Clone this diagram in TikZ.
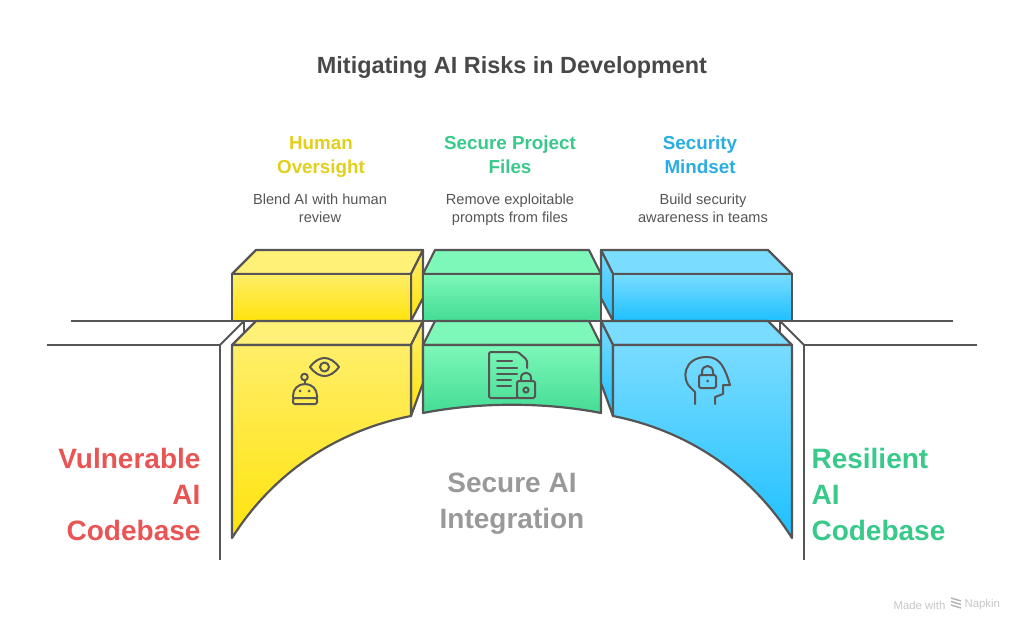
\documentclass[tikz,border=0pt]{standalone}
\usepackage{fontspec}
\setmainfont{Liberation Sans}
\definecolor{wallgray}{HTML}{555555}
\definecolor{titlegray}{HTML}{484848}
\definecolor{yellowtxt}{HTML}{E3CF1B}
\definecolor{greentxt}{HTML}{38C98B}
\definecolor{bluetxt}{HTML}{29ADE2}
\definecolor{redtxt}{HTML}{E95555}
\tikzset{
  wall/.style={draw=wallgray,line width=1.8},
  block/.style={draw=wallgray,line width=2.2,line join=round},
  ylw/.style={block,top color={rgb,255:red,255;green,238;blue,105},bottom color={rgb,255:red,255;green,227;blue,12}},
  grn/.style={block,top color={rgb,255:red,125;green,248;blue,185},bottom color={rgb,255:red,68;green,220;blue,148}},
  blu/.style={block,top color={rgb,255:red,122;green,220;blue,255},bottom color={rgb,255:red,30;green,192;blue,255}},
  ylwtop/.style={block,fill={rgb,255:red,255;green,240;blue,120}},
  grntop/.style={block,fill={rgb,255:red,125;green,248;blue,185}},
  blutop/.style={block,fill={rgb,255:red,122;green,220;blue,255}},
  heading/.style={font=\bfseries\fontsize{18.8}{24}\selectfont,align=center},
  note/.style={font=\fontsize{14.6}{18}\selectfont,text=wallgray,align=center},
  side/.style={font=\bfseries\fontsize{28}{36}\selectfont},
  icon/.style={draw=wallgray,line width=2,line join=round,line cap=round},
}

\begin{document}
\begin{tikzpicture}[x=1pt,y=-1pt]
\useasboundingbox (0,0) rectangle (1024,631);

% walls
\draw[wall] (71,321) -- (953,321);
\draw[wall] (47,345) -- (220,345) -- (220,560);
\draw[wall] (977,345) -- (804,345) -- (804,560);
\draw[wall] (220,345) -- (244,321) -- (244,345);
\draw[wall] (804,345) -- (780,321) -- (780,345);

% upper row
\draw[ylwtop] (232,274) -- (256,250) -- (423,250) -- (411,274) -- cycle;
\draw[ylw] (411,274) -- (423,250) -- (423,298) -- (411,321) -- cycle;
\draw[ylw] (232,274) rectangle (411,321);
\draw[grntop] (423,274) -- (435,250) -- (589,250) -- (601,274) -- cycle;
\draw[grn] (423,274) rectangle (601,321);
\draw[blutop] (601,250) -- (768,250) -- (792,274) -- (613,274) -- cycle;
\draw[blu] (613,274) -- (601,250) -- (601,298) -- (613,321) -- cycle;
\draw[blu] (613,274) rectangle (792,321);

% lower row
\draw[ylwtop] (232,345) -- (256,321) -- (423,321) -- (411,345) -- cycle;
\draw[ylw] (411,345) -- (423,321) -- (423,383) -- (411,416) -- cycle;
\draw[ylw] (232,345) -- (411,345) -- (411,416) .. controls (340,430) and (275,470) .. (232,538) -- cycle;
\draw[grntop] (423,345) -- (435,321) -- (589,321) -- (601,345) -- cycle;
\draw[grn] (423,345) -- (601,345) -- (601,413) .. controls (545,402) and (479,402) .. (423,413) -- cycle;
\draw[blutop] (601,321) -- (768,321) -- (792,345) -- (613,345) -- cycle;
\draw[blu] (613,345) -- (601,321) -- (601,383) -- (613,416) -- cycle;
\draw[blu] (613,345) -- (792,345) -- (792,538) .. controls (749,470) and (684,430) .. (613,416) -- cycle;

% robot and eye
\draw[icon] (310,367) .. controls (319,355) and (330,355) .. (339,367) .. controls (330,379) and (319,379) .. (310,367) -- cycle;
\draw[icon] (324.5,367) circle (4.5);
\draw[icon] (304.5,377) circle (3.3);
\draw[icon] (304.5,380.5) -- (304.5,384);
\draw[icon] (293,398) -- (293,396) .. controls (293,389) and (298,384) .. (305,384) .. controls (312,384) and (317,389) .. (317,396) -- (317,398);
\draw[icon,rounded corners=1.5] (293,398) rectangle (317,404);
\fill[wallgray] (300,391) circle (1.5) (309,391) circle (1.5);

% document and lock
\draw[icon,rounded corners=1.5] (517,398) -- (489,398) -- (489,352) -- (518,352) -- (527,360) -- (527,368);
\foreach \yy/\xx in {361/512,368/517,374/517,380/511,386/511}
  \draw[icon] (497,\yy) -- (\xx,\yy);
\draw[icon,rounded corners=1.5] (517,381) rectangle (535,398);
\draw[icon] (521,381) -- (521,378) .. controls (521,371) and (531,371) .. (531,378) -- (531,381);
\draw[icon] (526,390) circle (2.6);

% head and lock
\draw[icon] (695,404) -- (695,392) -- (691,388) .. controls (681,380) and (683,357) .. (707,357) .. controls (720,357) and (725,368) .. (730,385) -- (723,385) -- (723,394) -- (715,397) -- (715,404);
\draw[icon,rounded corners=1.5] (699,375) rectangle (716,388);
\draw[icon] (702,375) -- (702,372) .. controls (702,364) and (713,364) .. (713,372) -- (713,375);
\fill[wallgray] (707.5,381) circle (1.5);

% texts
\node[font=\bfseries\fontsize{23.4}{28}\selectfont,text=titlegray] (title) at (512,68) {Mitigating AI Risks in Development};
\node[heading,text=yellowtxt] (oversight) at (321,157) {\strut Human\\\strut Oversight};
\node[heading,text=greentxt] (files) at (510,157) {\strut Secure Project\\\strut Files};
\node[heading,text=bluetxt] (mindset) at (700,157) {\strut Security\\\strut Mindset};
\node[note] (oversightnote) at (320,210) {\strut Blend AI with human\\\strut review};
\node[note] (filesnote) at (510,210) {\strut Remove exploitable\\\strut prompts from files};
\node[note] (mindsetnote) at (703,210) {\strut Build security\\\strut awareness in teams};
\node[side,text=redtxt,align=right,anchor=east] (vulnerable) at (204,497) {\strut Vulnerable\\\strut AI\\\strut Codebase};
\node[side,text=greentxt,align=left,anchor=west] (resilient) at (808,497) {\strut Resilient\\\strut AI\\\strut Codebase};
\node[side,text=gray!80,align=center] (integration) at (512,503) {\strut Secure AI\\\strut Integration};

% badge
\node[font=\fontsize{11.4}{13}\selectfont,text=black!22,anchor=east] (made) at (949,605) {Made with};
\node[font=\fontsize{11.4}{13}\selectfont,text=black!22,anchor=west] (napkin) at (961,605) {Napkin};
\foreach \yy in {600,603.5,607}
  \draw[black!30,line width=1.4] (951,\yy-2) -- (961,\yy+1);
\end{tikzpicture}
\end{document}
